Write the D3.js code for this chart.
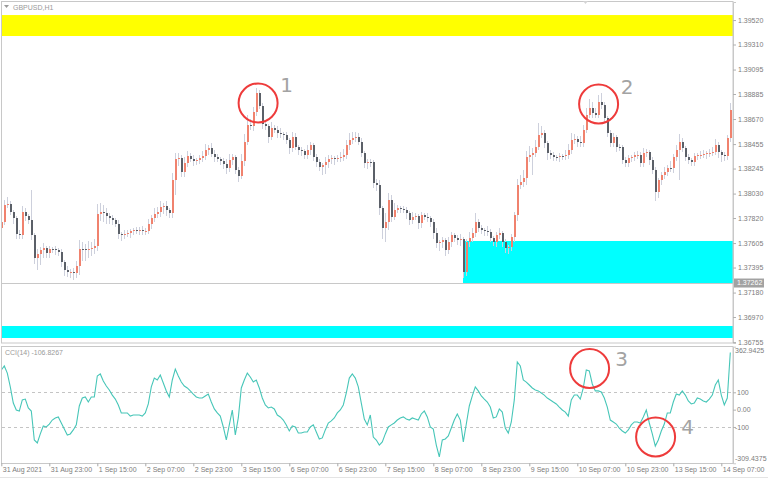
<!DOCTYPE html>
<html><head><meta charset="utf-8">
<script src="https://cdn.jsdelivr.net/npm/d3@7"></script>
<style>
body{margin:0;background:#fff;}
svg{display:block;}
text{font-family:"Liberation Sans",Arial,sans-serif;}
</style>
</head><body>
<svg id="c" width="768" height="480"></svg>
<script>
// ---------- data ----------
const symbolTitle = "GBPUSD,H1";
const cciTitle = "CCI(14) -106.8267";
const firstOpen = 1.37734;
const closes = [
1.37786,1.37932,1.37940,1.37872,1.37820,1.37683,1.37674,1.37872,1.37837,1.37803,
1.37674,1.37477,1.37511,1.37545,1.37562,1.37519,1.37554,1.37550,1.37545,1.37528,
1.37442,1.37374,1.37356,1.37359,1.37348,1.37408,1.37554,1.37551,1.37545,1.37554,
1.37562,1.37580,1.37854,1.37872,1.37863,1.37837,1.37820,1.37803,1.37769,1.37683,
1.37674,1.37683,1.37691,1.37708,1.37717,1.37714,1.37720,1.37708,1.37711,1.37769,
1.37820,1.37854,1.37872,1.37914,1.37923,1.37889,1.37863,1.38146,1.38327,1.38335,
1.38215,1.38292,1.38352,1.38327,1.38309,1.38318,1.38335,1.38352,1.38404,1.38421,
1.38370,1.38344,1.38327,1.38309,1.38284,1.38249,1.38318,1.38344,1.38232,1.38181,
1.38309,1.38473,1.38619,1.38610,1.38730,1.38893,1.38782,1.38627,1.38610,1.38516,
1.38593,1.38576,1.38550,1.38541,1.38533,1.38490,1.38421,1.38516,1.38430,1.38404,
1.38395,1.38361,1.38404,1.38447,1.38344,1.38301,1.38258,1.38275,1.38301,1.38327,
1.38335,1.38327,1.38335,1.38344,1.38361,1.38447,1.38490,1.38507,1.38516,1.38473,
1.38378,1.38292,1.38301,1.38298,1.38121,1.38103,1.37906,1.37734,1.37786,1.37975,
1.37829,1.37889,1.37906,1.37897,1.37889,1.37863,1.37803,1.37829,1.37837,1.37777,
1.37846,1.37829,1.37820,1.37786,1.37691,1.37605,1.37614,1.37631,1.37545,1.37614,
1.37674,1.37648,1.37631,1.37640,1.37356,1.37614,1.37648,1.37691,1.37786,1.37734,
1.37717,1.37708,1.37700,1.37648,1.37614,1.37674,1.37691,1.37614,1.37562,1.37570,
1.37657,1.37846,1.38103,1.38129,1.38164,1.38344,1.38361,1.38378,1.38430,1.38533,
1.38550,1.38464,1.38378,1.38361,1.38344,1.38340,1.38352,1.38349,1.38361,1.38404,
1.38490,1.38498,1.38473,1.38464,1.38576,1.38705,1.38765,1.38722,1.38705,1.38816,
1.38790,1.38679,1.38550,1.38464,1.38516,1.38430,1.38427,1.38318,1.38292,1.38335,
1.38344,1.38361,1.38364,1.38292,1.38378,1.38387,1.38318,1.38232,1.38043,1.38146,
1.38189,1.38215,1.38249,1.38246,1.38344,1.38404,1.38473,1.38421,1.38344,1.38318,
1.38301,1.38352,1.38361,1.38364,1.38370,1.38378,1.38381,1.38387,1.38447,1.38387,
1.38361,1.38352,1.38507,1.38747
];
const wickHiPips = [
3,4,6,3,2,2,3,5,3,2, 26,2,4,3,4,2,3,2,3,2, 3,2,3,2,3,4,8,6,5,7, 5,6,9,8,6,4,3,3,2,3,
2,3,3,2,2,3,2,3,2,4, 3,5,4,5,3,4,2,6,5,4, 3,5,4,3,3,2,3,4,5,3, 4,3,3,2,3,4,5,3,2,3,
6,7,9,5,4,4,3,3,3,2, 5,3,3,4,2,3,2,4,3,2, 3,2,4,3,2,3,3,2,4,3, 3,2,3,4,5,4,6,5,4,3,
3,2,3,3,2,3,4,2,8,6, 4,6,3,2,3,3,2,4,3,2, 3,2,3,2,3,4,2,3,2,4, 3,2,3,4,2,3,5,4,8,3,
3,2,4,3,2,3,4,2,3,2, 3,3,5,6,7,5,8,4,6,10, 6,3,2,3,3,2,3,2,4,5, 6,4,3,5,4,6,8,5,4,6,
8,3,2,3,3,2,3,2,3,3, 2,3,3,2,4,3,2,3,3,2, 3,4,3,6,3,4,7,3,2,3, 2,3,2,3,3,2,3,4,5,3,
2,3,3,6
];
const wickLoPips = [
4,3,3,3,5,4,3,3,4,3, 4,5,10,9,7,4,4,3,4,3, 4,5,4,5,6,4,8,10,9,7, 6,5,4,6,8,7,5,4,3,4,
5,3,3,4,3,3,4,3,3,3, 4,3,3,4,6,5,4,4,13,6, 4,4,3,3,4,3,3,3,3,4, 3,4,3,3,4,5,3,4,3,5,
3,4,3,3,4,3,3,4,3,5, 3,3,4,3,4,3,5,3,3,4, 4,3,3,4,3,4,3,7,8,5, 4,5,3,3,3,3,4,3,3,3,
3,4,5,4,4,5,6,9,12,7, 4,3,3,3,3,5,4,3,3,5, 4,3,3,4,5,4,7,5,5,3, 4,3,4,5,5,3,4,3,3,3,
3,4,3,3,3,4,3,4,4,5, 3,4,5,3,4,6,4,17,3,3, 3,4,6,3,3,3,4,3,3,3, 3,3,4,3,3,3,3,4,3,3,
3,4,3,3,3,4,3,3,3,3, 3,3,3,3,3,3,4,3,8,5, 4,3,3,3,4,3,26,3,3,3, 3,3,3,3,3,4,3,3,3,5,
6,4,3,3
];
const cciValues = [
228,252,211,131,38,-2,-8,56,61,10,
-8,-175,-192,-140,-94,-100,-83,-60,-48,-42,
-77,-112,-146,-140,-117,-88,21,67,73,44,
73,73,194,206,165,136,113,84,61,27,
-19,-19,-19,-37,-31,-31,-31,-37,-19,33,
131,182,171,200,154,108,73,171,234,194,
159,136,125,108,90,73,67,67,79,90,
44,4,-19,-37,-100,-175,-88,-2,-146,-48,
125,171,211,188,159,171,125,67,27,10,
15,4,-31,-42,-60,-88,-123,-94,-100,-135,
-135,-129,-129,-100,-88,-129,-169,-163,-117,-77,
-65,-48,-19,-2,27,96,182,206,182,131,
38,-54,-88,-31,-158,-175,-204,-186,-140,-100,
-88,-77,-60,-48,-42,-54,-60,-48,-54,-60,
-25,-8,-42,-100,-112,-204,-273,-175,-169,-152,
-106,-60,-25,-60,-186,-83,21,79,131,108,
79,61,44,15,-48,-42,4,-14,-106,-135,
-71,56,275,252,171,159,142,125,113,108,
96,84,67,56,44,33,15,-2,-14,-37,
56,84,84,61,125,229,223,148,108,108,
102,67,15,-60,-71,-83,-106,-123,-135,-117,
-88,-71,-71,-77,-42,-2,-77,-140,-210,-175,
-123,-83,-19,-19,44,90,84,108,84,50,
33,38,67,61,50,44,61,84,142,171,
84,27,67,330
];
const timeLabels = ["31 Aug 2021","31 Aug 23:00","1 Sep 15:00","2 Sep 07:00","2 Sep 23:00","3 Sep 15:00",
  "6 Sep 07:00","6 Sep 23:00","7 Sep 15:00","8 Sep 07:00","8 Sep 23:00","9 Sep 15:00",
  "10 Sep 07:00","10 Sep 23:00","13 Sep 15:00","14 Sep 07:00"];
const timeLabelBars = [0,16,32,48,64,80,96,112,128,144,160,176,192,208,224,240];
const priceTicks = [1.39520,1.39310,1.39095,1.38885,1.38670,1.38455,1.38245,1.38030,1.37820,1.37605,1.37395,1.37180,1.36970,1.36755];
const priceRange = [1.36747, 1.39675];
const cciRange = [-309.4375, 362.9425];
const cciTicks = [100, 0, -100];
const cciLevels = [100, -100];
const resistanceZone = [1.39383, 1.39563];
const supportZone = [1.36790, 1.36893];
const demandZone = [1.37262, 1.37623];
const demandStartBar = 154;
const lastPrice = 1.37262;
const markLabels = ["1","2","3","4"];
const markBars = [85.6, 199.1, 196.1, 218.1];
const markValues = [1.38808, 1.38799, 237, -158];
const markPanels = ["price","price","cci","cci"];

// ---------- layout ----------
const plotL = 2, plotR = 733, mainT = 2, mainB = 343, cciT = 346.7, cciB = 463.3;
const PIP = 0.0001;
const svg = d3.select("#c");
const n = closes.length;
const x = d3.scaleLinear().domain([0, n - 1]).range([1.3, 1.3 + 3 * (n - 1)]);
const y = d3.scaleLinear().domain(priceRange).range([mainB, mainT]);
const yc = d3.scaleLinear().domain(cciRange).range([cciB, cciT]);

const candles = closes.map((c, i) => {
  const o = i === 0 ? firstOpen : closes[i - 1];
  return {i, o, c, h: Math.max(o, c) + wickHiPips[i] * PIP, l: Math.min(o, c) - wickLoPips[i] * PIP};
});

// background
svg.append("rect").attr("width", 768).attr("height", 480).attr("fill", "#ffffff");

// clip
const defs = svg.append("defs");
defs.append("clipPath").attr("id", "mainClip").append("rect")
  .attr("x", plotL).attr("y", mainT).attr("width", plotR - plotL).attr("height", mainB - mainT);
defs.append("clipPath").attr("id", "cciClip").append("rect")
  .attr("x", plotL).attr("y", cciT - 1).attr("width", plotR - plotL).attr("height", cciB - cciT + 2);

const main = svg.append("g").attr("clip-path", "url(#mainClip)");

// zones
main.append("rect").attr("x", plotL).attr("width", plotR - plotL)
  .attr("y", y(resistanceZone[1])).attr("height", y(resistanceZone[0]) - y(resistanceZone[1]))
  .attr("fill", "#ffff00");
main.append("rect").attr("x", plotL).attr("width", plotR - plotL)
  .attr("y", y(supportZone[1])).attr("height", y(supportZone[0]) - y(supportZone[1]))
  .attr("fill", "#00ffff");
main.append("rect").attr("x", Math.round(x(demandStartBar))).attr("width", plotR - Math.round(x(demandStartBar)))
  .attr("y", y(demandZone[1])).attr("height", y(demandZone[0]) - y(demandZone[1]))
  .attr("fill", "#00ffff");

// last price line
main.append("line").attr("x1", plotL).attr("x2", plotR)
  .attr("y1", Math.round(y(lastPrice)) + 0.5).attr("y2", Math.round(y(lastPrice)) + 0.5)
  .attr("stroke", "#c8c8c8").attr("stroke-width", 1);

// candles
const cg = main.append("g").attr("shape-rendering", "crispEdges");
cg.selectAll("line.w").data(candles).join("line").attr("class", "w")
  .attr("x1", d => Math.round(x(d.i)) + 0.5).attr("x2", d => Math.round(x(d.i)) + 0.5)
  .attr("y1", d => y(d.h)).attr("y2", d => y(d.l))
  .attr("stroke", "#cdd0dc").attr("stroke-width", 1);
cg.selectAll("rect.b").data(candles).join("rect").attr("class", "b")
  .attr("x", d => Math.round(x(d.i)))
  .attr("width", 2)
  .attr("y", d => Math.round(y(Math.max(d.o, d.c))))
  .attr("height", d => Math.max(1, Math.round(Math.abs(y(d.o) - y(d.c)))))
  .attr("fill", d => d.c >= d.o ? "#f0826e" : "#5b6068");

// ---------- CCI panel ----------
const cg2 = svg.append("g").attr("clip-path", "url(#cciClip)");
cciLevels.forEach(v => {
  cg2.append("line").attr("x1", plotL).attr("x2", plotR)
    .attr("y1", Math.round(yc(v)) + 0.5).attr("y2", Math.round(yc(v)) + 0.5)
    .attr("stroke", "#c4c4c4").attr("stroke-dasharray", "3,3");
});
cg2.append("path").datum(cciValues)
  .attr("d", d3.line().x((d, i) => x(i)).y(d => yc(d)))
  .attr("fill", "none").attr("stroke", "#47c6b8").attr("stroke-width", 1.1);

// ---------- frames ----------
svg.append("rect").attr("x", 1.5).attr("y", 1.5).attr("width", plotR - 1.5).attr("height", mainB - 1.5)
  .attr("fill", "none").attr("stroke", "#c8c8c8");
svg.append("rect").attr("x", 1.5).attr("y", 346.5).attr("width", plotR - 1.5).attr("height", 463.5 - 346.5)
  .attr("fill", "none").attr("stroke", "#c8c8c8");
svg.append("line").attr("x1", 0).attr("x2", 768).attr("y1", 477.5).attr("y2", 477.5).attr("stroke", "#e4e4e4");

// ---------- annotations ----------
const markCol = "#ee3b3b";
markLabels.forEach((lab, k) => {
  const cx = x(markBars[k]);
  const cy = markPanels[k] === "price" ? y(markValues[k]) : yc(markValues[k]);
  svg.append("circle").attr("cx", cx).attr("cy", cy).attr("r", 19.5)
    .attr("fill", "none").attr("stroke", markCol).attr("stroke-width", 2);
  const dx = markPanels[k] === "price" ? 28.5 : 32;
  const dy = markPanels[k] === "price" ? -10.5 : -3;
  svg.append("text").attr("x", cx + dx).attr("y", cy + dy).attr("text-anchor", "middle")
    .style("font-family", "'DejaVu Sans',sans-serif").style("font-size", "20px")
    .attr("fill", "#a3a3a3").text(lab);
});

// ---------- axes ----------
const pAxis = svg.append("g").attr("transform", `translate(${plotR},0)`)
  .call(d3.axisRight(y).tickValues(priceTicks).tickSize(3).tickPadding(2).tickFormat(d => d.toFixed(5)));
pAxis.select(".domain").attr("stroke", "#c8c8c8");
pAxis.selectAll(".tick line").attr("stroke", "#b0b0b0");
pAxis.selectAll(".tick text").style("font-size", "7px").attr("fill", "#7c7c7c");

// last price label
const ly = y(lastPrice);
svg.append("rect").attr("x", 734).attr("y", ly - 4.5).attr("width", 30).attr("height", 9).attr("fill", "#a2a2a2");
svg.append("text").attr("x", 737).attr("y", ly).attr("dy", "0.32em").style("font-size", "7px")
  .attr("fill", "#ffffff").text(lastPrice.toFixed(5));

const cAxis = svg.append("g").attr("transform", `translate(${plotR},0)`)
  .call(d3.axisRight(yc).tickValues(cciTicks).tickSize(3).tickPadding(2)
    .tickFormat(d => d === 0 ? "0.00" : String(d)));
cAxis.select(".domain").attr("stroke", "#c8c8c8");
cAxis.selectAll(".tick line").attr("stroke", "#b0b0b0");
cAxis.selectAll(".tick text").style("font-size", "7px").attr("fill", "#7c7c7c")
  .attr("x", d => d < 0 ? 2 : 4);
svg.append("text").attr("x", 735).attr("y", yc(cciRange[1]) + 4.5).attr("dy", "0.32em")
  .style("font-size", "7px").attr("fill", "#7c7c7c").text(cciRange[1].toFixed(4));
svg.append("text").attr("x", 735).attr("y", yc(cciRange[0]) - 4.5).attr("dy", "0.32em")
  .style("font-size", "7px").attr("fill", "#7c7c7c").text(cciRange[0].toFixed(4));

const tAxis = svg.append("g").attr("transform", `translate(0,${cciB})`)
  .call(d3.axisBottom(x).tickValues(timeLabelBars).tickSize(3).tickFormat((d, i) => timeLabels[i]));
tAxis.select(".domain").remove();
tAxis.selectAll(".tick line").attr("stroke", "#a8a8a8");
tAxis.selectAll(".tick text").style("font-size", "7px").attr("fill", "#7c7c7c")
  .attr("text-anchor", "start").attr("x", 1).attr("y", 4).attr("dy", "0.71em");

// titles
svg.append("path").attr("d", "M4,5 L9,5 L6.5,8 Z").attr("fill", "#9a9a9a");
svg.append("text").attr("x", 13).attr("y", 10).style("font-size", "7px").attr("fill", "#9a9a9a").text(symbolTitle);
svg.append("text").attr("x", 5).attr("y", 355).style("font-size", "7px").attr("fill", "#9a9a9a").text(cciTitle);
svg.append("path").attr("d", "M583,1 L588,1 L585.5,4 Z").attr("fill", "#d4d4d4");
</script>
</body></html>
